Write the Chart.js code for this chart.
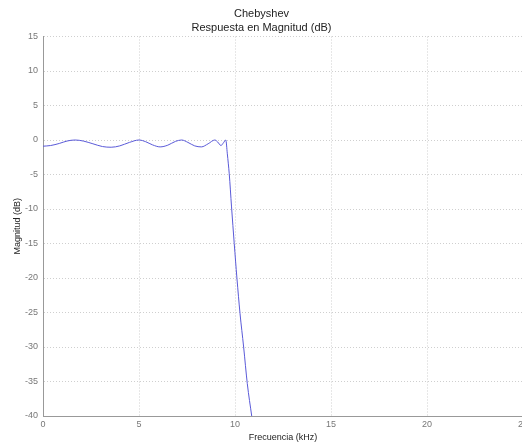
<!DOCTYPE html>
<html>
<head>
<meta charset="utf-8">
<script src="https://cdn.jsdelivr.net/npm/chart.js@4/dist/chart.umd.min.js"></script>
<style>
  html, body { margin: 0; padding: 0; background: #fff; overflow: hidden; }
  #wrap { position: absolute; left: 0; top: 0; width: 540px; height: 443px; }
</style>
</head>
<body>
<div id="wrap"><canvas id="magChart"></canvas></div>
<script>
// frequency (kHz) and magnitude (dB)
const freqKHz = [0, 0.4, 0.85, 1.25, 1.67, 2.1, 2.6, 3.1, 3.55, 4.0, 4.5, 5.0,
  5.35, 5.7, 6.1, 6.5, 6.9, 7.22, 7.55, 7.9, 8.25, 8.6, 8.95, 9.1, 9.27, 9.4,
  9.52, 9.6, 9.7, 9.82, 9.96, 10.1, 10.26, 10.45, 10.64, 10.87];
const magDB = [-0.9, -0.8, -0.5, -0.15, 0, -0.15, -0.55, -0.95, -1.05, -0.85, -0.35, 0,
  -0.25, -0.7, -1.0, -0.75, -0.2, 0, -0.35, -0.85, -1.0, -0.55, 0, -0.3, -0.8, -0.4,
  0, -2.0, -4.9, -9.7, -15, -20, -25.1, -30, -35.3, -40];
const xTicks = [0, 5, 10, 15, 20, 25];
const yTicks = [15, 10, 5, 0, -5, -10, -15, -20, -25, -30, -35, -40];

const points = freqKHz.map((f, i) => ({ x: f, y: magDB[i] }));
const tickFont = { family: 'Liberation Sans, Arial, sans-serif', size: 9 };

const ctx = document.getElementById('magChart');
new Chart(ctx, {
  type: 'line',
  data: {
    datasets: [{
      label: 'Magnitud',
      data: points,
      borderColor: '#5a5ad8',
      borderWidth: 1,
      pointRadius: 0,
      fill: false,
      cubicInterpolationMode: 'monotone'
    }]
  },
  options: {
    responsive: true,
    maintainAspectRatio: false,
    animation: false,
    layout: { padding: { left: 0, right: 17, top: 0, bottom: 0 } },
    plugins: {
      legend: { display: false },
      tooltip: { enabled: false },
      title: {
        display: true,
        text: ['Chebyshev', 'Respuesta en Magnitud (dB)'],
        color: '#222',
        font: { family: 'Liberation Sans, Arial, sans-serif', size: 11, weight: 'normal', lineHeight: 1.25 },
        padding: { top: 7, bottom: 2 }
      }
    },
    scales: {
      x: {
        type: 'linear',
        min: 0,
        max: 25,
        afterBuildTicks: (s) => { s.ticks = xTicks.map(v => ({ value: v })); },
        afterFit: (s) => { s.height = 27; },
        ticks: { color: '#777', font: tickFont, padding: 3, maxRotation: 0 },
        grid: { color: '#cfcfcf', tickLength: 0, drawTicks: false },
        border: { display: true, color: '#999', dash: [1, 2] },
        title: {
          display: true,
          text: 'Frecuencia (kHz)',
          color: '#222',
          font: { family: 'Liberation Sans, Arial, sans-serif', size: 9 },
          padding: { top: 0, bottom: 0 }
        }
      },
      y: {
        min: -40,
        max: 15,
        afterBuildTicks: (s) => { s.ticks = yTicks.map(v => ({ value: v })); },
        afterFit: (s) => { s.width = 43; },
        ticks: { color: '#777', font: tickFont, padding: 5 },
        grid: { color: '#cfcfcf', tickLength: 0, drawTicks: false },
        border: { display: true, color: '#999', dash: [1, 2] },
        title: {
          display: true,
          text: 'Magnitud (dB)',
          color: '#222',
          font: { family: 'Liberation Sans, Arial, sans-serif', size: 9 },
          padding: { top: 12, bottom: 6 }
        }
      }
    }
  }
});
</script>
</body>
</html>
